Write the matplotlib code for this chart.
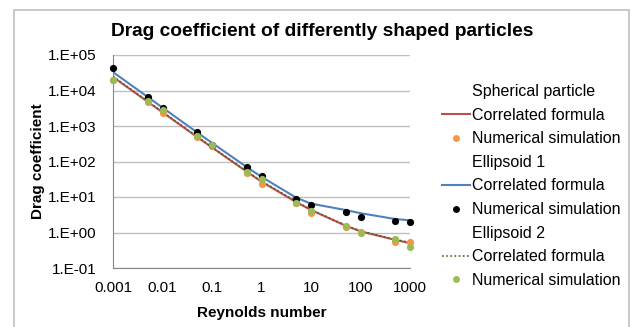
import matplotlib
matplotlib.use('Agg')
import matplotlib.pyplot as plt
from matplotlib.lines import Line2D
from matplotlib.patches import Rectangle

plt.rcParams['font.family'] = ['Liberation Sans', 'DejaVu Sans']

# Reynolds numbers (x)
reynolds = [0.001, 0.005, 0.01, 0.05, 0.1, 0.5, 1, 5, 10, 50, 100, 500, 1000]

# Spherical particle
sph_formula = [24000, 4850, 2430, 490, 248, 52, 27, 7.2, 4.3, 1.55, 1.08, 0.62, 0.5]
sph_sim = [20000, 4600, 2370, 500, 265, 48, 24, 6.6, 3.6, 1.45, 1.05, 0.55, 0.53]

# Ellipsoid 1
ell1_formula = [33000, 6600, 3300, 660, 335, 70, 37, 9.6, 6.5, 4.3, 3.5, 2.4, 2.2]
ell1_sim = [43000, 6400, 3300, 670, 300, 71, 39, 8.8, 6.1, 3.9, 2.8, 2.05, 2.0]

# Ellipsoid 2
ell2_formula = [25000, 5000, 2500, 505, 255, 53, 28, 7.5, 4.4, 1.6, 1.1, 0.64, 0.52]
ell2_sim = [19500, 5000, 2800, 540, 290, 50, 32, 6.9, 4.0, 1.5, 0.98, 0.66, 0.385]

x_ticks = [0.001, 0.01, 0.1, 1, 10, 100, 1000]
x_tick_labels = ['0.001', '0.01', '0.1', '1', '10', '100', '1000']
y_ticks = [1e-1, 1e0, 1e1, 1e2, 1e3, 1e4, 1e5]
y_tick_labels = ['1.E-01', '1.E+00', '1.E+01', '1.E+02', '1.E+03', '1.E+04', '1.E+05']

fig = plt.figure(figsize=(6.31, 3.27), dpi=100)
fig.patches.append(Rectangle((14 / 631, -0.05), (629 - 14) / 631, 1.05 - 9.5 / 327,
                             transform=fig.transFigure, facecolor='none',
                             edgecolor='#bfbfbf', linewidth=1.2, zorder=-1))
ax = fig.add_axes([113 / 631, 1 - 268 / 327, (410 - 113) / 631, (268 - 55) / 327])
ax.set_facecolor('none')

ax.set_xscale('log')
ax.set_yscale('log')
ax.set_xlim(0.001, 1000)
ax.set_ylim(0.1, 1e5)

ax.plot(reynolds, sph_formula, color='#C0504D', lw=1.5, zorder=3)
ax.plot(reynolds, ell1_formula, color='#4F81BD', lw=1.5, zorder=3)
ax.plot(reynolds, ell2_formula, color='#4F6228', lw=1.2, ls=(0, (1, 1.5)), zorder=3)
dot = dict(marker='o', ls='none', ms=5.2, mew=0, clip_on=False)
ax.plot(reynolds, sph_sim, color='#F79646', zorder=4, **dot)
ax.plot(reynolds, ell1_sim, color='black', zorder=4, **dot)
ax.plot(reynolds, ell2_sim, color='#9BBB59', zorder=5, **dot)

ax.set_xticks(x_ticks)
ax.set_xticklabels(x_tick_labels)
ax.set_yticks(y_ticks)
ax.set_yticklabels(y_tick_labels)
ax.minorticks_off()
ax.tick_params(length=0, labelsize=11, colors='black')
ax.tick_params(axis='x', pad=9)
ax.tick_params(axis='y', pad=12)
ax.grid(axis='y', color='#bfbfbf', lw=1)
ax.set_axisbelow(True)
for side in ['top', 'right']:
    ax.spines[side].set_visible(False)
for side in ['left', 'bottom']:
    ax.spines[side].set_color('#868686')

ax.set_xlabel('Reynolds number', fontsize=11, fontweight='bold', labelpad=8)
ax.set_ylabel('Drag coefficient', fontsize=11, fontweight='bold', labelpad=2)
fig.text(322 / 631, 1 - 31 / 327, 'Drag coefficient of differently shaped particles',
         ha='center', va='center', fontsize=13.8, fontweight='bold')

blank = Line2D([], [], linestyle='none', marker=None)
leg_dot = dict(marker='o', ls='none', ms=5, mew=0)
handles = [
    blank,
    Line2D([], [], color='#C0504D', lw=1.5),
    Line2D([], [], color='#F79646', **leg_dot),
    blank,
    Line2D([], [], color='#4F81BD', lw=1.5),
    Line2D([], [], color='black', **leg_dot),
    blank,
    Line2D([], [], color='#4F6228', lw=1.2, ls=(0, (1, 1.5))),
    Line2D([], [], color='#9BBB59', **leg_dot),
]
labels = ['Spherical particle', 'Correlated formula', 'Numerical simulation',
          'Ellipsoid 1', 'Correlated formula', 'Numerical simulation',
          'Ellipsoid 2', 'Correlated formula', 'Numerical simulation']
fig.legend(handles, labels, loc='upper left', bbox_to_anchor=(442 / 631, 1 - 84 / 327),
           frameon=False, fontsize=11.5, handlelength=1.75, handletextpad=0.1,
           labelspacing=0.54, borderaxespad=0, borderpad=0)

fig.savefig('out.png', dpi=100)
